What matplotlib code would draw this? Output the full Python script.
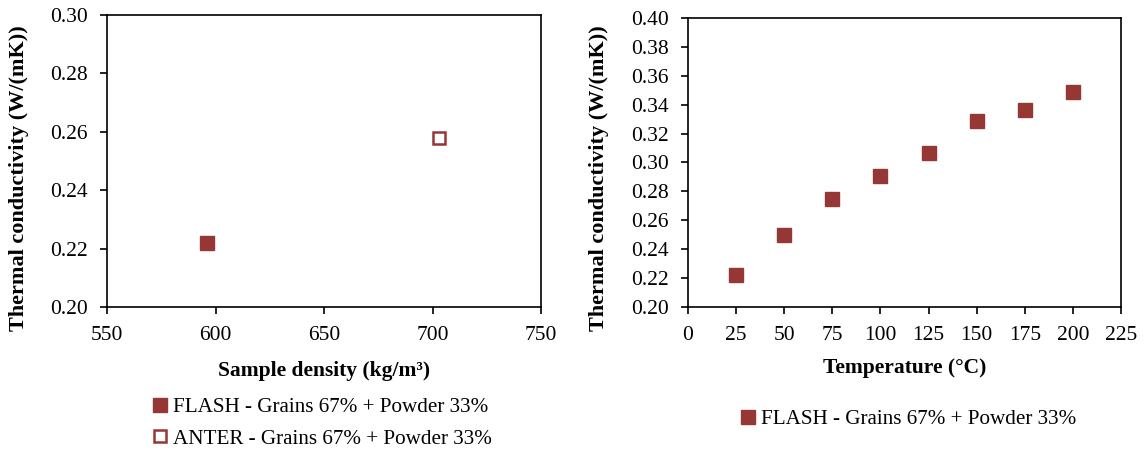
import matplotlib
matplotlib.use("Agg")
import matplotlib.pyplot as plt
from matplotlib.lines import Line2D

plt.rcParams['font.family'] = ['Liberation Serif', 'DejaVu Serif']

# Left chart data
flash_density = [596]
flash_k_density = [0.2218]
anter_density = [703]
anter_k_density = [0.258]

# Right chart data
temperature = [25, 50, 75, 100, 125, 150, 175, 200]
flash_k_temp = [0.222, 0.250, 0.2745, 0.291, 0.3065, 0.3285, 0.336, 0.349]

legend_flash = "FLASH - Grains 67% + Powder 33%"
legend_anter = "ANTER - Grains 67% + Powder 33%"

color = "#953735"
W, H = 1144, 451
fig = plt.figure(figsize=(W / 100, H / 100), dpi=100)

def px_axes(x0, x1, y0, y1):
    return fig.add_axes([x0 / W, 1 - y1 / H, (x1 - x0) / W, (y1 - y0) / H])

ax1 = px_axes(107, 541, 15, 307)
ax2 = px_axes(688, 1121, 18, 307)

ms = 9.5
ax1.plot(flash_density, flash_k_density, ls='none', marker='s', ms=ms, color=color)
ax1.plot(anter_density, anter_k_density, ls='none', marker='s', ms=ms - 1, mfc='white',
         mec=color, mew=1.8)
ax1.set_xlim(550, 750)
ax1.set_ylim(0.20, 0.30)
ax1.set_xticks([550, 600, 650, 700, 750])
yt1 = [0.20, 0.22, 0.24, 0.26, 0.28, 0.30]
ax1.set_yticks(yt1)
ax1.set_yticklabels([f"{v:.2f}" for v in yt1])
ax1.set_xlabel("Sample density (kg/m³)", fontsize=15.5, fontweight='bold', labelpad=11)
ax1.set_ylabel("Thermal conductivity (W/(mK))", fontsize=16, fontweight='bold')
ax1.yaxis.set_label_coords((29 - 107) / 434, (307 - 178) / 292)

ax2.plot(temperature, flash_k_temp, ls='none', marker='s', ms=ms, color=color)
ax2.set_xlim(0, 225)
ax2.set_ylim(0.20, 0.40)
ax2.set_xticks(list(range(0, 226, 25)))
yt = [0.20 + 0.02 * i for i in range(11)]
ax2.set_yticks(yt)
ax2.set_yticklabels([f"{v:.2f}" for v in yt])
ax2.set_xlabel("Temperature (°C)", fontsize=15.5, fontweight='bold', labelpad=9)
ax2.set_ylabel("Thermal conductivity (W/(mK))", fontsize=16, fontweight='bold')
ax2.yaxis.set_label_coords((609 - 688) / 433, (307 - 178) / 289)

for ax in (ax1, ax2):
    for s in ax.spines.values():
        s.set_linewidth(1.2)
        s.set_color('black')
    ax.tick_params(direction='out', length=5, width=1.2, labelsize=15.5, pad=9,
                   top=False, right=False)

h_flash = Line2D([], [], ls='none', marker='s', ms=ms, color=color)
h_anter = Line2D([], [], ls='none', marker='s', ms=ms - 1, mfc='white', mec=color, mew=1.8)

fig.legend([h_flash, h_anter], [legend_flash, legend_anter], loc='center',
           bbox_to_anchor=(323 / W, 1 - 423 / H), frameon=False, fontsize=15.2,
           handlelength=0.6, handletextpad=0.3, labelspacing=0.55, borderpad=0)
fig.legend([h_flash], [legend_flash], loc='center',
           bbox_to_anchor=(909 / W, 1 - 419 / H), frameon=False, fontsize=15.2,
           handlelength=0.6, handletextpad=0.3, borderpad=0)

fig.savefig("out.png", dpi=100)
